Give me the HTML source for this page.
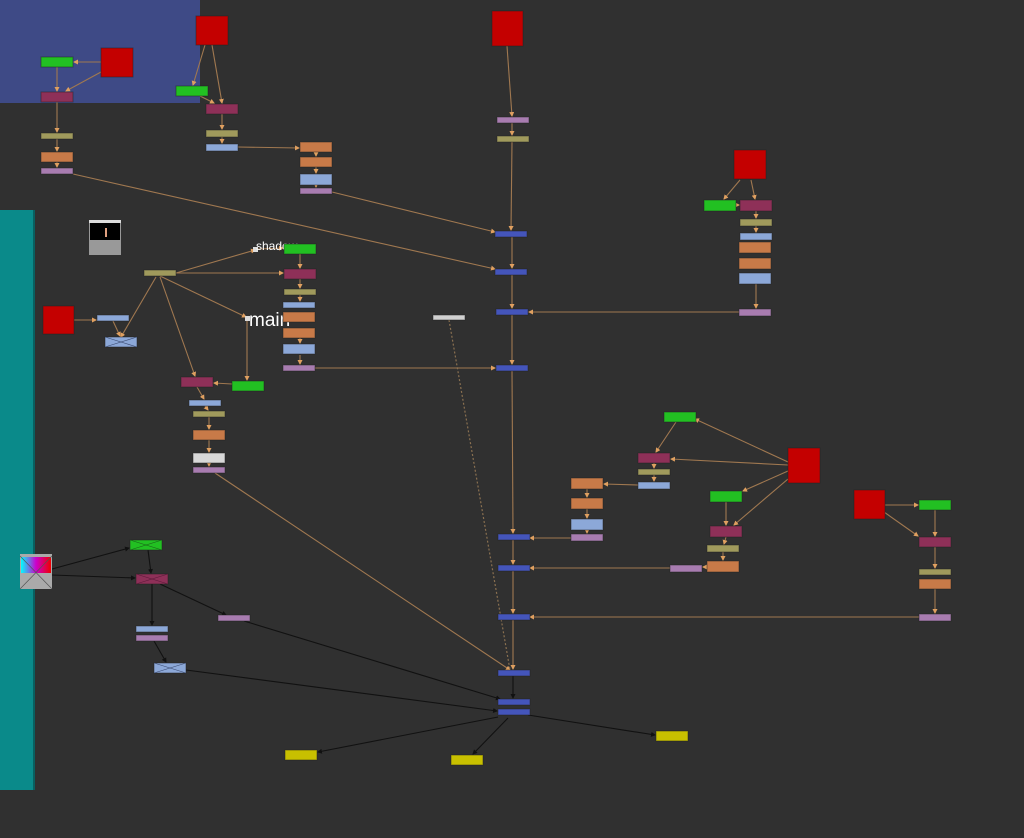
<!DOCTYPE html>
<html><head><meta charset="utf-8"><style>
html,body{margin:0;padding:0;background:#303030;width:1024px;height:838px;overflow:hidden}
svg{display:block}
text{font-family:"Liberation Sans",sans-serif;fill:#fff}
</style></head><body>
<svg width="1024" height="838" viewBox="0 0 1024 838" xmlns="http://www.w3.org/2000/svg">
<defs>
<marker id="a" markerUnits="userSpaceOnUse" markerWidth="5" markerHeight="5" refX="4" refY="2.5" orient="auto"><path d="M0,0L5,2.5L0,5z" fill="#e0a060"/></marker>
<marker id="b" markerUnits="userSpaceOnUse" markerWidth="5" markerHeight="5" refX="4" refY="2.5" orient="auto"><path d="M0,0L5,2.5L0,5z" fill="#111"/></marker>
<linearGradient id="cg" x1="0" y1="0" x2="1" y2="0"><stop offset="0" stop-color="#0ff"/><stop offset=".5" stop-color="#c0c"/><stop offset="1" stop-color="#e00"/></linearGradient>
</defs>
<rect x="0" y="0" width="200" height="103" fill="#3e4a86"/>
<rect x="0" y="210" width="35" height="580" fill="#0a8a8a"/>
<rect x="33" y="210" width="2" height="580" fill="#086060"/>

<g stroke="#a07850" stroke-width="1.1" fill="none" marker-end="url(#a)">
<line x1="101" y1="62" x2="74" y2="62"/><line x1="101" y1="72" x2="66" y2="91"/>
<line x1="57" y1="67" x2="57" y2="91"/><line x1="57" y1="102" x2="57" y2="132"/>
<line x1="57" y1="139" x2="57" y2="151"/><line x1="57" y1="162" x2="57" y2="167"/>
<line x1="73" y1="174" x2="495" y2="269"/>
<line x1="205" y1="45" x2="193" y2="85"/><line x1="212" y1="45" x2="222" y2="103"/>
<line x1="200" y1="96" x2="214" y2="103"/><line x1="222" y1="114" x2="222" y2="129"/>
<line x1="222" y1="137" x2="222" y2="143"/><line x1="238" y1="147" x2="299" y2="148"/>
<line x1="316" y1="152" x2="316" y2="156"/><line x1="316" y1="167" x2="316" y2="173"/>
<line x1="316" y1="185" x2="316" y2="187"/><line x1="332" y1="192" x2="495" y2="232"/>
<line x1="507" y1="46" x2="512" y2="116"/><line x1="512" y1="123" x2="512" y2="135"/>
<line x1="512" y1="142" x2="511" y2="230"/><line x1="512" y1="237" x2="512" y2="268"/>
<line x1="512" y1="275" x2="512" y2="308"/><line x1="512" y1="315" x2="512" y2="364"/>
<line x1="512" y1="371" x2="513" y2="533"/><line x1="513" y1="540" x2="513" y2="564"/>
<line x1="513" y1="571" x2="513" y2="613"/><line x1="513" y1="620" x2="513" y2="669"/>
<line x1="739" y1="312" x2="529" y2="312"/>
<line x1="740" y1="180" x2="724" y2="199"/><line x1="751" y1="180" x2="755" y2="199"/>
<line x1="736" y1="205" x2="739" y2="205"/><line x1="756" y1="211" x2="756" y2="218"/>
<line x1="756" y1="226" x2="756" y2="232"/><line x1="756" y1="284" x2="756" y2="308"/>
<line x1="176" y1="273" x2="255" y2="250"/><line x1="258" y1="249" x2="283" y2="248"/>
<line x1="176" y1="273" x2="283" y2="273"/><line x1="160" y1="276" x2="246" y2="317"/>
<line x1="247" y1="320" x2="247" y2="380"/><line x1="160" y1="277" x2="195" y2="376"/>
<line x1="156" y1="277" x2="121" y2="337"/><line x1="74" y1="320" x2="96" y2="320"/>
<line x1="113" y1="321" x2="120" y2="336"/><line x1="232" y1="384" x2="214" y2="383"/>
<line x1="197" y1="387" x2="204" y2="399"/><line x1="205" y1="406" x2="208" y2="410"/>
<line x1="209" y1="417" x2="209" y2="429"/><line x1="209" y1="440" x2="209" y2="452"/>
<line x1="209" y1="463" x2="209" y2="466"/><line x1="215" y1="473" x2="510" y2="670"/>
<line x1="300" y1="254" x2="300" y2="268"/><line x1="300" y1="279" x2="300" y2="288"/>
<line x1="300" y1="295" x2="300" y2="301"/><line x1="300" y1="338" x2="300" y2="343"/>
<line x1="300" y1="355" x2="300" y2="364"/><line x1="315" y1="368" x2="495" y2="368"/>
<line x1="788" y1="462" x2="695" y2="419"/><line x1="788" y1="465" x2="671" y2="459"/>
<line x1="676" y1="422" x2="656" y2="452"/><line x1="654" y1="463" x2="654" y2="468"/>
<line x1="654" y1="475" x2="654" y2="481"/><line x1="638" y1="485" x2="604" y2="484"/>
<line x1="587" y1="489" x2="587" y2="497"/><line x1="587" y1="509" x2="587" y2="518"/>
<line x1="587" y1="530" x2="587" y2="533"/><line x1="571" y1="538" x2="530" y2="538"/>
<line x1="788" y1="471" x2="743" y2="491"/><line x1="788" y1="479" x2="734" y2="525"/>
<line x1="726" y1="502" x2="726" y2="525"/><line x1="726" y1="537" x2="724" y2="544"/>
<line x1="723" y1="552" x2="723" y2="560"/><line x1="707" y1="567" x2="703" y2="567"/>
<line x1="670" y1="568" x2="530" y2="568"/>
<line x1="885" y1="505" x2="918" y2="505"/><line x1="884" y1="512" x2="918" y2="536"/>
<line x1="935" y1="510" x2="935" y2="536"/><line x1="935" y1="547" x2="935" y2="568"/>
<line x1="935" y1="589" x2="935" y2="613"/><line x1="919" y1="617" x2="530" y2="617"/>
</g>
<line x1="449" y1="320" x2="510" y2="670" stroke="#8a7050" stroke-width="1.2" stroke-dasharray="2,2"/>
<g stroke="#111" stroke-width="1.1" fill="none" marker-end="url(#b)">
<line x1="52" y1="569" x2="129" y2="548"/><line x1="52" y1="575" x2="135" y2="578"/>
<line x1="148" y1="550" x2="151" y2="573"/><line x1="152" y1="584" x2="152" y2="625"/>
<line x1="160" y1="584" x2="226" y2="615"/><line x1="244" y1="621" x2="500" y2="699"/>
<line x1="154" y1="641" x2="166" y2="662"/><line x1="186" y1="670" x2="497" y2="711"/>
<line x1="513" y1="676" x2="513" y2="698"/><line x1="498" y1="717" x2="318" y2="752"/>
<line x1="508" y1="718" x2="473" y2="754"/><line x1="528" y1="715" x2="655" y2="735"/>
</g>

<!-- labels (behind nodes) -->
<rect x="253" y="247" width="5" height="5" fill="#ddd"/>
<text x="256" y="250" font-size="12">shadow</text>
<rect x="245" y="316" width="5" height="5" fill="#ddd"/>
<text x="249" y="326" font-size="19">main</text>

<g stroke="#222" stroke-opacity=".5" stroke-width="1">
<rect x="101" y="48" width="32" height="29" fill="#c40000"/>
<rect x="196" y="16" width="32" height="29" fill="#c40000"/>
<rect x="492" y="11" width="31" height="35" fill="#c40000"/>
<rect x="734" y="150" width="32" height="29" fill="#c40000"/>
<rect x="43" y="306" width="31" height="28" fill="#c40000"/>
<rect x="788" y="448" width="32" height="35" fill="#c40000"/>
<rect x="854" y="490" width="31" height="29" fill="#c40000"/>
<g fill="#22c022">
<rect x="41" y="57" width="32" height="10"/><rect x="176" y="86" width="32" height="10"/>
<rect x="704" y="200" width="32" height="11"/><rect x="284" y="244" width="32" height="10"/>
<rect x="232" y="381" width="32" height="10"/><rect x="664" y="412" width="32" height="10"/>
<rect x="710" y="491" width="32" height="11"/><rect x="919" y="500" width="32" height="10"/>
<rect x="130" y="540" width="32" height="10"/></g>
<g fill="#8e3058">
<rect x="41" y="92" width="32" height="10"/><rect x="206" y="104" width="32" height="10"/>
<rect x="740" y="200" width="32" height="11"/><rect x="284" y="269" width="32" height="10"/>
<rect x="181" y="377" width="32" height="10"/><rect x="638" y="453" width="32" height="10"/>
<rect x="710" y="526" width="32" height="11"/><rect x="919" y="537" width="32" height="10"/>
<rect x="136" y="574" width="32" height="10"/></g>
<g fill="#a09a5c">
<rect x="41" y="133" width="32" height="6"/><rect x="206" y="130" width="32" height="7"/>
<rect x="497" y="136" width="32" height="6"/><rect x="740" y="219" width="32" height="7"/>
<rect x="144" y="270" width="32" height="6"/><rect x="284" y="289" width="32" height="6"/>
<rect x="193" y="411" width="32" height="6"/><rect x="638" y="469" width="32" height="6"/>
<rect x="707" y="545" width="32" height="7"/><rect x="919" y="569" width="32" height="6"/></g>
<g fill="#c87a48">
<rect x="41" y="152" width="32" height="10"/><rect x="300" y="142" width="32" height="10"/>
<rect x="300" y="157" width="32" height="10"/><rect x="739" y="242" width="32" height="11"/>
<rect x="739" y="258" width="32" height="11"/><rect x="283" y="312" width="32" height="10"/>
<rect x="283" y="328" width="32" height="10"/><rect x="193" y="430" width="32" height="10"/>
<rect x="571" y="478" width="32" height="11"/><rect x="571" y="498" width="32" height="11"/>
<rect x="707" y="561" width="32" height="11"/><rect x="919" y="579" width="32" height="10"/></g>
<g fill="#a87cb0">
<rect x="41" y="168" width="32" height="6"/><rect x="300" y="188" width="32" height="6"/>
<rect x="497" y="117" width="32" height="6"/><rect x="739" y="309" width="32" height="7"/>
<rect x="283" y="365" width="32" height="6"/><rect x="193" y="467" width="32" height="6"/>
<rect x="571" y="534" width="32" height="7"/><rect x="670" y="565" width="32" height="7"/>
<rect x="919" y="614" width="32" height="7"/><rect x="136" y="635" width="32" height="6"/>
<rect x="218" y="615" width="32" height="6"/></g>
<g fill="#8ca8d8">
<rect x="206" y="144" width="32" height="7"/><rect x="300" y="174" width="32" height="11"/>
<rect x="740" y="233" width="32" height="7"/><rect x="739" y="273" width="32" height="11"/>
<rect x="283" y="302" width="32" height="6"/><rect x="283" y="344" width="32" height="10"/>
<rect x="189" y="400" width="32" height="6"/><rect x="638" y="482" width="32" height="7"/>
<rect x="571" y="519" width="32" height="11"/>
<rect x="97" y="315" width="32" height="6"/><rect x="105" y="337" width="32" height="10"/>
<rect x="136" y="626" width="32" height="6"/><rect x="154" y="663" width="32" height="10"/></g>
<g fill="#4455bb">
<rect x="495" y="231" width="32" height="6"/><rect x="495" y="269" width="32" height="6"/>
<rect x="496" y="309" width="32" height="6"/><rect x="496" y="365" width="32" height="6"/>
<rect x="498" y="534" width="32" height="6"/><rect x="498" y="565" width="32" height="6"/>
<rect x="498" y="614" width="32" height="6"/><rect x="498" y="670" width="32" height="6"/>
<rect x="498" y="699" width="32" height="6"/><rect x="498" y="709" width="32" height="6"/></g>
<rect x="193" y="453" width="32" height="10" fill="#d8d8d8"/>
<rect x="433" y="315" width="32" height="5" fill="#d0d0d0"/>
<g fill="#c8c000">
<rect x="285" y="750" width="32" height="10"/><rect x="451" y="755" width="32" height="10"/>
<rect x="656" y="731" width="32" height="10"/></g>
</g>
<g stroke="#3a4a70" stroke-width=".6">
<line x1="105" y1="337" x2="137" y2="347"/><line x1="105" y1="347" x2="137" y2="337"/>
<line x1="154" y1="663" x2="186" y2="673"/><line x1="154" y1="673" x2="186" y2="663"/>
<line x1="130" y1="540" x2="162" y2="550" stroke="#186018"/><line x1="130" y1="550" x2="162" y2="540" stroke="#186018"/>
<line x1="136" y1="574" x2="168" y2="584" stroke="#5a1a38"/><line x1="136" y1="584" x2="168" y2="574" stroke="#5a1a38"/>
</g>
<rect x="89" y="220" width="32" height="35" fill="#999"/>
<rect x="89" y="220" width="32" height="3" fill="#ddd"/>
<rect x="90" y="223" width="30" height="17" fill="#000"/>
<rect x="105" y="228" width="2" height="9" fill="#e0a080"/>
<rect x="20" y="554" width="32" height="35" fill="#aaa"/>
<rect x="21" y="557" width="30" height="16" fill="url(#cg)"/>
<line x1="20" y1="556" x2="52" y2="589" stroke="#555" stroke-width=".7"/>
<line x1="52" y1="556" x2="20" y2="589" stroke="#555" stroke-width=".7"/>
</svg>
</body></html>
